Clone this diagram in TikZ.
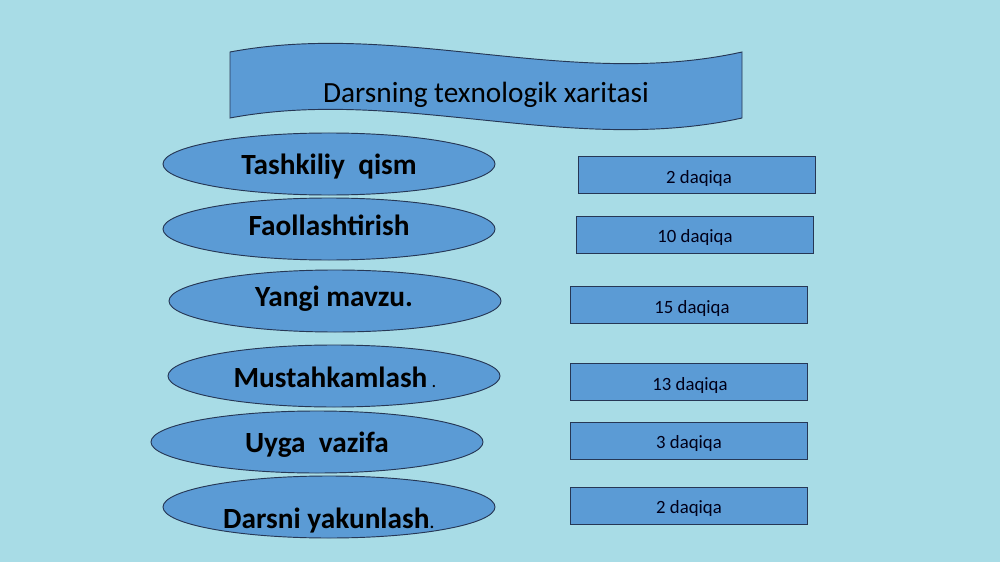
\documentclass[tikz,border=0pt]{standalone}
\usepackage{fontspec}
\setmainfont{Carlito}
\usepackage{xcolor}
\usepackage{tikz}
\usetikzlibrary{shapes.geometric, positioning}
\definecolor{waterbg}{RGB}{168,220,230}
\definecolor{shapeblue}{RGB}{91,155,213}
\definecolor{edgecolor}{RGB}{38,55,85}

\begin{document}
\begin{tikzpicture}[
    x=0.03cm, y=-0.03cm,
    stage/.style={draw=edgecolor, line width=0.8pt, fill=shapeblue, ellipse, minimum width=9.96cm, minimum height=1.86cm, inner sep=0pt},
    stagetext/.style={anchor=base, font=\fontsize{25}{29}\selectfont\bfseries, text=black, inner sep=0pt},
    timebox/.style={draw=edgecolor, line width=0.8pt, fill=shapeblue, minimum width=7.11cm, minimum height=1.11cm, inner sep=0pt},
    timetext/.style={anchor=base, font=\fontsize{16}{19}\selectfont, text=black!90!blue, inner sep=0pt}
]
    % Background
    \fill[waterbg] (0,0) rectangle (1000,562);
    \useasboundingbox (0,0) rectangle (1000,562);

    % Title banner
    \filldraw[fill=shapeblue, draw=edgecolor, line width=0.8pt]
        (230,52) .. controls (400,20) and (570,90) .. (742,52)
        -- (742,118) .. controls (570,156) and (400,86) .. (230,118) -- cycle;
    \node[anchor=base, font=\fontsize{25}{29}\selectfont, inner sep=0pt] (title) at (486,103) {Darsning texnologik xaritasi};

    % Lesson stages
    \node[stage] (tashkiliy) at (329,164) {};
    \node[stagetext] (tashkiliytxt) at (329,174) {Tashkiliy\ \ qism};

    \node[stage] (faol) at (329,229) {};
    \node[stagetext] (faoltxt) at (329,235) {Faollashtirish};

    \node[stage] (yangi) at (335,301) {};
    \node[stagetext] (yangitxt) at (334,306) {Yangi mavzu.};

    \node[stage] (mustah) at (334,376) {};
    \node[stagetext] (mustahtxt) at (335,387) {Mustahkamlash{\mdseries\fontsize{16}{19}\selectfont\ .}};

    \node[stage] (uyga) at (317,442) {};
    \node[stagetext] (uygatxt) at (317,452) {Uyga\ \ vazifa};

    \node[stage] (yakun) at (329,507) {};
    \node[stagetext] (yakuntxt) at (329,528) {Darsni yakunlash{\mdseries\fontsize{18}{20}\selectfont .}};

    % Time boxes
    \node[timebox] (t1) at (697,175) {};
    \node[timetext] (t1txt) at (699,183) {2 daqiqa};

    \node[timebox] (t2) at (695,235) {};
    \node[timetext] (t2txt) at (695,242) {10 daqiqa};

    \node[timebox] (t3) at (689,305) {};
    \node[timetext] (t3txt) at (692,313) {15 daqiqa};

    \node[timebox] (t4) at (689,382) {};
    \node[timetext] (t4txt) at (690,390) {13 daqiqa};

    \node[timebox] (t5) at (689,441) {};
    \node[timetext] (t5txt) at (689,448) {3 daqiqa};

    \node[timebox] (t6) at (689,506) {};
    \node[timetext] (t6txt) at (689,513) {2 daqiqa};
\end{tikzpicture}
\end{document}
